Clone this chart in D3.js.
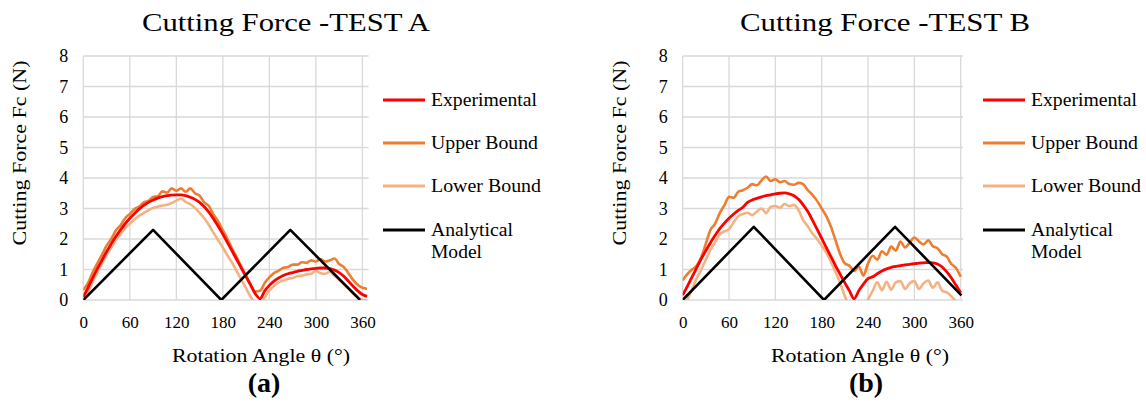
<!DOCTYPE html>
<html><head><meta charset="utf-8">
<script src="https://cdn.jsdelivr.net/npm/d3@7"></script>
<style>body{margin:0;background:#fff}svg{display:block}svg text{font-family:"Liberation Serif","Times New Roman",serif !important;fill:#000}</style>
</head><body><svg id="c" width="1146" height="412" font-family="Liberation Serif"></svg>
<script>
const xTicks = [0,60,120,180,240,300,360];
const yTicks = [0,1,2,3,4,5,6,7,8];
const seriesNames = ["Experimental","Upper Bound","Lower Bound","Analytical Model"];
const seriesColors = ["#FF0000","#ED7D31","#F4B183","#000000"];

const anglesA = [0,6,12,18,24,30,36,42,48,54,60,66,72,78,84,90,96,102,108,114,120,126,132,138,144,150,156,162,168,174,180,186,192,198,204,210,216,222,228,234,240,246,252,258,264,270,276,282,288,294,300,306,312,318,324,330,336,342,348,354,360,366];
const expA = [0.1,0.4,0.72,1.02,1.3,1.58,1.84,2.08,2.3,2.5,
 2.68,2.84,2.98,3.1,3.2,3.28,3.34,3.39,3.42,3.44,
 3.45,3.45,3.42,3.37,3.3,3.2,3.06,2.88,2.66,2.42,
 2.16,1.88,1.6,1.32,1.04,0.76,0.48,0.2,0.04,0.3,
 0.48,0.62,0.72,0.8,0.86,0.9,0.94,0.97,1.0,1.02,
 1.04,1.05,1.05,1.03,0.98,0.9,0.78,0.62,0.45,0.3,
 0.18,0.12];
const upA = [0.33,0.55,0.9,1.2,1.48,1.78,2.0,2.28,2.45,2.68,
 2.82,2.98,3.06,3.2,3.25,3.38,3.4,3.56,3.52,3.66,
 3.58,3.66,3.55,3.66,3.5,3.42,3.2,3.08,2.8,2.58,
 2.28,2.0,1.68,1.4,1.08,0.8,0.5,0.28,0.3,0.56,
 0.74,0.88,0.96,1.06,1.08,1.16,1.16,1.24,1.22,1.3,
 1.26,1.34,1.26,1.3,1.36,1.18,1.08,0.88,0.66,0.5,
 0.4,0.37];
const loA = [-0.05,0.25,0.6,0.9,1.2,1.48,1.72,1.98,2.16,2.36,
 2.5,2.64,2.76,2.86,2.94,3.02,3.06,3.1,3.12,3.18,
 3.26,3.32,3.22,3.14,3.02,2.86,2.68,2.46,2.2,1.96,
 1.72,1.46,1.22,0.94,0.66,0.38,0.1,-0.1,-0.12,0.08,
 0.32,0.46,0.58,0.64,0.7,0.72,0.78,0.8,0.84,0.86,
 0.96,0.88,0.86,0.93,0.8,0.66,0.52,0.38,0.22,0.1,
 0.0,-0.02];
const anaAnglesA = [0,90,178,267,357];
const anaA = [0,2.3,0,2.3,0];

const anglesB = [0,6,12,18,24,30,36,42,48,54,60,66,72,78,84,90,96,102,108,114,120,126,132,138,144,150,156,162,168,174,180,186,192,198,204,210,216,222,228,234,240,246,252,258,264,270,276,282,288,294,300,306,312,318,324,330,336,342,348,354,360];
const expB = [0.16,0.45,0.75,1.05,1.35,1.62,1.88,2.12,2.34,2.52,
 2.68,2.82,2.94,3.04,3.2,3.28,3.33,3.38,3.42,3.45,
 3.48,3.5,3.51,3.48,3.42,3.3,3.12,2.9,2.62,2.32,
 2.02,1.72,1.42,1.12,0.84,0.56,0.3,0.04,0.3,0.52,
 0.7,0.76,0.86,0.95,1.02,1.07,1.1,1.13,1.15,1.17,
 1.19,1.21,1.22,1.23,1.22,1.18,1.08,0.92,0.72,0.48,
 0.24];
const upB = [0.65,0.85,1.0,1.12,1.4,1.85,2.3,2.5,2.85,3.1,
 3.38,3.35,3.55,3.6,3.68,3.8,3.76,3.92,4.05,3.9,
 3.96,3.86,3.9,3.8,3.78,3.84,3.8,3.6,3.45,3.25,
 3.0,2.75,2.4,1.95,1.5,1.2,1.12,0.95,1.1,0.8,
 1.2,1.45,1.32,1.6,1.48,1.75,1.62,1.92,1.72,1.88,
 2.05,1.92,1.82,1.96,1.76,1.7,1.5,1.42,1.18,1.05,
 0.76];
const loB = [-0.4,0.0,0.35,0.7,1.0,1.32,1.65,1.9,2.15,2.25,
 2.32,2.55,2.75,2.82,2.86,2.78,2.9,3.0,2.85,3.06,
 3.08,3.02,3.15,3.08,3.12,2.95,2.62,2.42,2.18,2.0,
 1.78,1.55,1.25,0.92,0.55,0.12,-0.2,-0.4,-0.4,-0.3,
 0.02,0.3,0.58,0.32,0.6,0.34,0.58,0.62,0.36,0.55,
 0.62,0.36,0.55,0.64,0.4,0.58,0.3,0.25,0.12,-0.05,
 -0.2];
const anaAnglesB = [0,92,183,275,361];
const anaB = [0,2.4,0,2.4,0.15];

const FONT = "Liberation Serif";
const svg = d3.select("#c");

const panels = [
 {id:"A", title:"Cutting  Force  -TEST A", label:"(a)", left:83.3, right:368.6, xMax:368,
  angles:anglesA, exp:expA, up:upA, lo:loA, anaX:anaAnglesA, ana:anaA,
  titleX:286, titleW:288, yLabX:20, axTitleX:261, subX:264, legX:383},
 {id:"B", title:"Cutting  Force  -TEST B", label:"(b)", left:682.7, right:963, xMax:363,
  angles:anglesB, exp:expB, up:upB, lo:loB, anaX:anaAnglesB, ana:anaB,
  titleX:885, titleW:290, yLabX:620, axTitleX:860, subX:866, legX:983}
];

panels.forEach(p => {
  const g = svg.append("g").attr("font-family",FONT);
  const x = d3.scaleLinear().domain([0,p.xMax]).range([p.left,p.right]);
  const y = d3.scaleLinear().domain([0,8]).range([300,56]);

  g.append("g").selectAll("line").data(yTicks).join("line")
    .attr("x1",p.left).attr("x2",p.right).attr("y1",d=>y(d)).attr("y2",d=>y(d))
    .attr("stroke","#d9d9d9").attr("stroke-width",1.3);
  g.append("g").selectAll("line").data(xTicks).join("line")
    .attr("x1",d=>x(d)).attr("x2",d=>x(d)).attr("y1",y(0)).attr("y2",y(8))
    .attr("stroke","#d9d9d9").attr("stroke-width",1.3);

  const yAxis = g.append("g").attr("transform",`translate(${p.left},0)`)
    .call(d3.axisLeft(y).tickValues(yTicks).tickSize(0).tickPadding(15).tickFormat(d3.format("d")));
  yAxis.attr("font-family",FONT).attr("font-size",18);
  yAxis.select(".domain").remove();
  yAxis.selectAll("text").style("font-family",FONT).attr("font-size",18);
  const xAxis = g.append("g").attr("transform",`translate(0,300)`)
    .call(d3.axisBottom(x).tickValues(xTicks).tickSize(0).tickPadding(16).tickFormat(d3.format("d")));
  xAxis.attr("font-family",FONT).attr("font-size",17);
  xAxis.select(".domain").remove();
  xAxis.selectAll("text").style("font-family",FONT).attr("font-size",17);

  const clipId = "clip"+p.id;
  svg.append("clipPath").attr("id",clipId).append("rect")
    .attr("x",p.left).attr("y",y(8)).attr("width",p.right-p.left).attr("height",y(0)-y(8));
  const lines = g.append("g").attr("clip-path",`url(#${clipId})`);
  const smooth = d3.line().x(d=>x(d[0])).y(d=>y(d[1])).curve(d3.curveMonotoneX);
  const straight = d3.line().x(d=>x(d[0])).y(d=>y(d[1]));
  const zip = (a,b)=>a.map((v,i)=>[v,b[i]]);
  lines.append("path").attr("d",smooth(zip(p.angles,p.up))).attr("fill","none")
    .attr("stroke",seriesColors[1]).attr("stroke-width",2.6).attr("stroke-linejoin","round");
  lines.append("path").attr("d",smooth(zip(p.angles,p.lo))).attr("fill","none")
    .attr("stroke",seriesColors[2]).attr("stroke-width",2.6).attr("stroke-linejoin","round");
  lines.append("path").attr("d",smooth(zip(p.angles,p.exp))).attr("fill","none")
    .attr("stroke",seriesColors[0]).attr("stroke-width",2.8).attr("stroke-linejoin","round");
  lines.append("path").attr("d",straight(zip(p.anaX,p.ana))).attr("fill","none")
    .attr("stroke",seriesColors[3]).attr("stroke-width",2.6).attr("stroke-linejoin","round");

  const T = (sel)=>sel.style("font-family",FONT);
  T(g.append("text")).attr("x",p.titleX).attr("y",31).attr("text-anchor","middle")
    .attr("font-size",25).attr("textLength",p.titleW).attr("lengthAdjust","spacingAndGlyphs").text(p.title);
  T(g.append("text")).attr("transform",`translate(${p.yLabX+6},153) rotate(-90)`).attr("text-anchor","middle")
    .attr("font-size",19).attr("textLength",185).attr("lengthAdjust","spacingAndGlyphs").text("Cutting Force Fc (N)");
  T(g.append("text")).attr("x",p.axTitleX).attr("y",362).attr("text-anchor","middle")
    .attr("font-size",19).attr("textLength",178).attr("lengthAdjust","spacingAndGlyphs").text("Rotation Angle θ (°)");
  T(g.append("text")).attr("x",p.subX).attr("y",392).attr("text-anchor","middle")
    .attr("font-size",28).attr("font-weight","bold").text(p.label);

  const legY = [100,143,186,230];
  const legW = [106,107,110,82];
  const legText = ["Experimental","Upper Bound","Lower Bound","Analytical"];
  legY.forEach((ly,i)=>{
    g.append("line").attr("x1",p.legX).attr("x2",p.legX+42).attr("y1",ly).attr("y2",ly)
      .attr("stroke",seriesColors[i]).attr("stroke-width",2.8);
    T(g.append("text")).attr("x",p.legX+48).attr("y",ly+6).attr("font-size",18)
      .attr("textLength",legW[i]).attr("lengthAdjust","spacingAndGlyphs").text(legText[i]);
  });
  T(g.append("text")).attr("x",p.legX+48).attr("y",258).attr("font-size",18)
    .attr("textLength",51).attr("lengthAdjust","spacingAndGlyphs").text("Model");
});
</script></body></html>
